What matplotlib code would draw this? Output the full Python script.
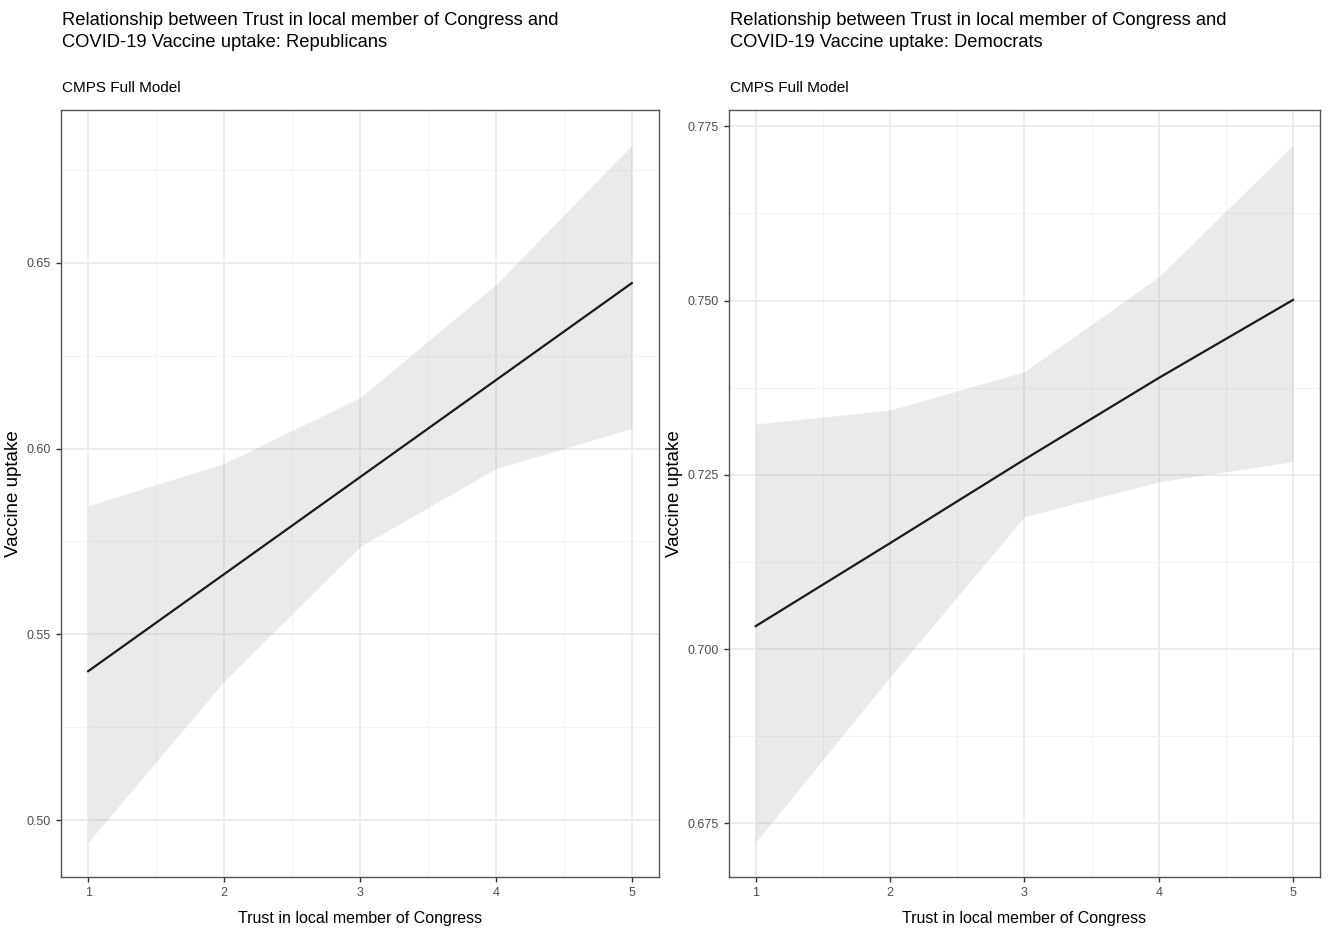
import numpy as np
import matplotlib
matplotlib.use('Agg')
import matplotlib.pyplot as plt
from matplotlib.ticker import FixedLocator, FormatStrFormatter

plt.rcParams['font.family'] = ['Liberation Sans', 'DejaVu Sans']

trust = [1, 2, 3, 4, 5]

# Republicans
rep_fit = [0.5401, 0.5662, 0.5923, 0.6184, 0.6445]
rep_low = [0.4941, 0.5374, 0.5736, 0.5946, 0.6054]
rep_high = [0.5846, 0.5960, 0.6137, 0.6441, 0.6816]
rep_ticks = [0.50, 0.55, 0.60, 0.65]
rep_minor = [0.475, 0.525, 0.575, 0.625, 0.675]

# Democrats
dem_fit = [0.7033, 0.7152, 0.7272, 0.7389, 0.7501]
dem_low = [0.6723, 0.6960, 0.7190, 0.7240, 0.7269]
dem_high = [0.7323, 0.7343, 0.7398, 0.7534, 0.7723]
dem_ticks = [0.675, 0.700, 0.725, 0.750, 0.775]
dem_minor = [0.6625, 0.6875, 0.7125, 0.7375, 0.7625]

title1 = 'Relationship between Trust in local member of Congress and\nCOVID-19 Vaccine uptake: Republicans'
title2 = 'Relationship between Trust in local member of Congress and\nCOVID-19 Vaccine uptake: Democrats'
subtitle = 'CMPS Full Model'

fig = plt.figure(figsize=(13.3, 9.35), dpi=100)
ax1 = fig.add_axes([0.0459, 0.062, 0.4496, 0.820])
ax2 = fig.add_axes([0.548, 0.062, 0.4444, 0.820])


def panel(ax, fit, low, high, ticks, minor, fmt, title):
    ax.fill_between(trust, low, high, color='#999999', alpha=0.2, linewidth=0, zorder=2)
    ax.plot(trust, fit, color='#1a1a1a', linewidth=1.6, zorder=3)
    lo = min(low)
    hi = max(high)
    pad = (hi - lo) * 0.05
    ax.set_ylim(lo - pad, hi + pad)
    ax.set_xlim(0.8, 5.2)
    ax.xaxis.set_major_locator(FixedLocator(trust))
    ax.xaxis.set_minor_locator(FixedLocator([1.5, 2.5, 3.5, 4.5]))
    ax.yaxis.set_major_locator(FixedLocator(ticks))
    ax.yaxis.set_minor_locator(FixedLocator(minor))
    ax.yaxis.set_major_formatter(FormatStrFormatter(fmt))
    ax.grid(which='major', color='#ebebeb', linewidth=1.3, zorder=0)
    ax.grid(which='minor', color='#f2f2f2', linewidth=0.7, zorder=0)
    ax.set_axisbelow(True)
    for s in ax.spines.values():
        s.set_color('#555555')
        s.set_linewidth(1.0)
    ax.tick_params(which='major', length=3.5, width=1.0, color='#333333',
                   labelsize=9, labelcolor='#4d4d4d', pad=4)
    ax.tick_params(which='minor', length=0)
    ax.set_xlabel('Trust in local member of Congress', fontsize=11.5, color='black', labelpad=8)
    ax.set_ylabel('Vaccine uptake', fontsize=13.5, labelpad=3)
    x0 = ax.get_position().x0
    fig.text(x0 + 0.001, 0.987, title, ha='left', va='top', fontsize=13.2, linespacing=1.4)
    fig.text(x0 + 0.001, 0.913, subtitle, ha='left', va='top', fontsize=11)


panel(ax1, rep_fit, rep_low, rep_high, rep_ticks, rep_minor, '%.2f', title1)
panel(ax2, dem_fit, dem_low, dem_high, dem_ticks, dem_minor, '%.3f', title2)

fig.savefig('out.png', dpi=100)
